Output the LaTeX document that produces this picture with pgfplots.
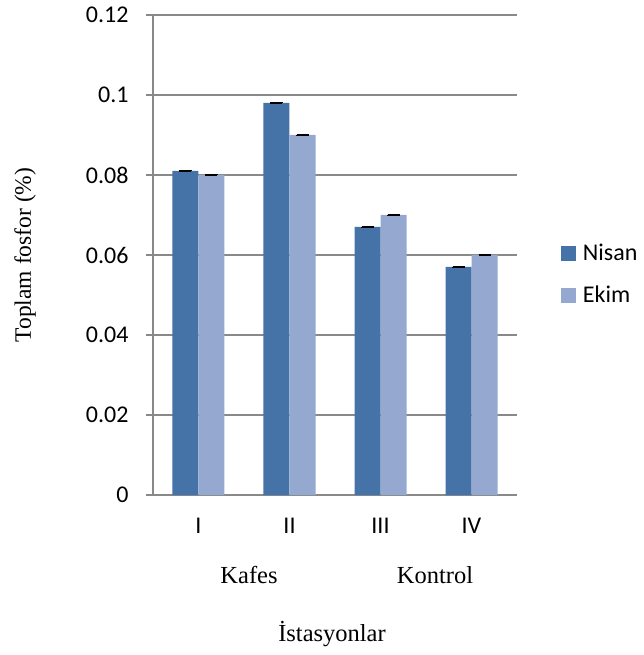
\documentclass[border=0pt]{standalone}
\usepackage{pgfplots}
\pgfplotsset{compat=1.18}
\usepackage{fontspec}
\setmainfont{Carlito}
\newfontfamily\serif{Liberation Serif}
\definecolor{nisan}{HTML}{4572A7}
\definecolor{ekim}{HTML}{95A9D0}
\definecolor{gridc}{HTML}{898989}
\begin{document}
\begin{tikzpicture}
\useasboundingbox (-153bp,-160bp) rectangle (491bp,495bp);
\begin{axis}[
  at={(0,0)}, anchor=south west,
  scale only axis, width=364bp, height=480bp,
  ybar=0pt, bar width=26bp,
  xmin=-0.5, xmax=3.5, ymin=0, ymax=0.12,
  xtick={0,1,2,3}, xticklabels={I,II,III,IV},
  major x tick style={draw=none},
  extra x ticks={-0.5,0.5,1.5,2.5,3.5}, extra x tick labels={},
  extra x tick style={major tick length=8bp, tick style={draw=gridc, line width=1.3bp}, tick align=outside},
  ytick={0,0.02,0.04,0.06,0.08,0.1,0.12},
  yticklabels={0,0.02,0.04,0.06,0.08,0.1,0.12},
  ymajorgrids, grid style={draw=gridc, line width=1.3bp},
  axis x line*=bottom, axis y line*=left,
  axis line style={draw=gridc, line width=1.3bp, -},
  y tick style={draw=gridc, line width=1.3bp},
  tick align=outside, major tick length=7bp,
  tick label style={font=\fontsize{24bp}{28bp}\selectfont},
  xticklabel style={yshift=-13bp},
  yticklabel style={xshift=-14bp},
  /pgf/number format/assume math mode=true,
  legend style={draw=none, fill=none, at={(1.12,0.46)}, anchor=west,
    font=\fontsize{24bp}{28bp}\selectfont, row sep=20bp, inner sep=0pt,
    column sep=5bp,
    nodes={inner sep=2bp}, legend cell align=left},
  legend image code/.code={\fill[#1] (0bp,-7.5bp) rectangle (15bp,7.5bp);},
  error bars/y dir=both, error bars/y explicit,
  error bars/error mark options={rotate=90, mark size=6bp, line width=1bp, black},
  error bars/error bar style={black, line width=1bp},
]
\addplot[fill=nisan, draw=none] coordinates {(0,0.081) +- (0,0.0001) (1,0.098) +- (0,0.0001) (2,0.067) +- (0,0.0001) (3,0.057) +- (0,0.0001)};
\addplot[fill=ekim, draw=none] coordinates {(0,0.080) +- (0,0.0001) (1,0.090) +- (0,0.0001) (2,0.070) +- (0,0.0001) (3,0.060) +- (0,0.0001)};
\legend{Nisan,Ekim}
\end{axis}
\node[font=\serif\fontsize{24.5bp}{28bp}\selectfont] at (96bp,-80bp) {Kafes};
\node[font=\serif\fontsize{24.5bp}{28bp}\selectfont] at (282bp,-80bp) {Kontrol};
\node[font=\serif\fontsize{24.5bp}{28bp}\selectfont] at (179bp,-139bp) {İstasyonlar};
\node[font=\serif\fontsize{23.5bp}{28bp}\selectfont, rotate=90] at (-128bp,240bp) {Toplam fosfor (\%)};
\end{tikzpicture}
\end{document}
